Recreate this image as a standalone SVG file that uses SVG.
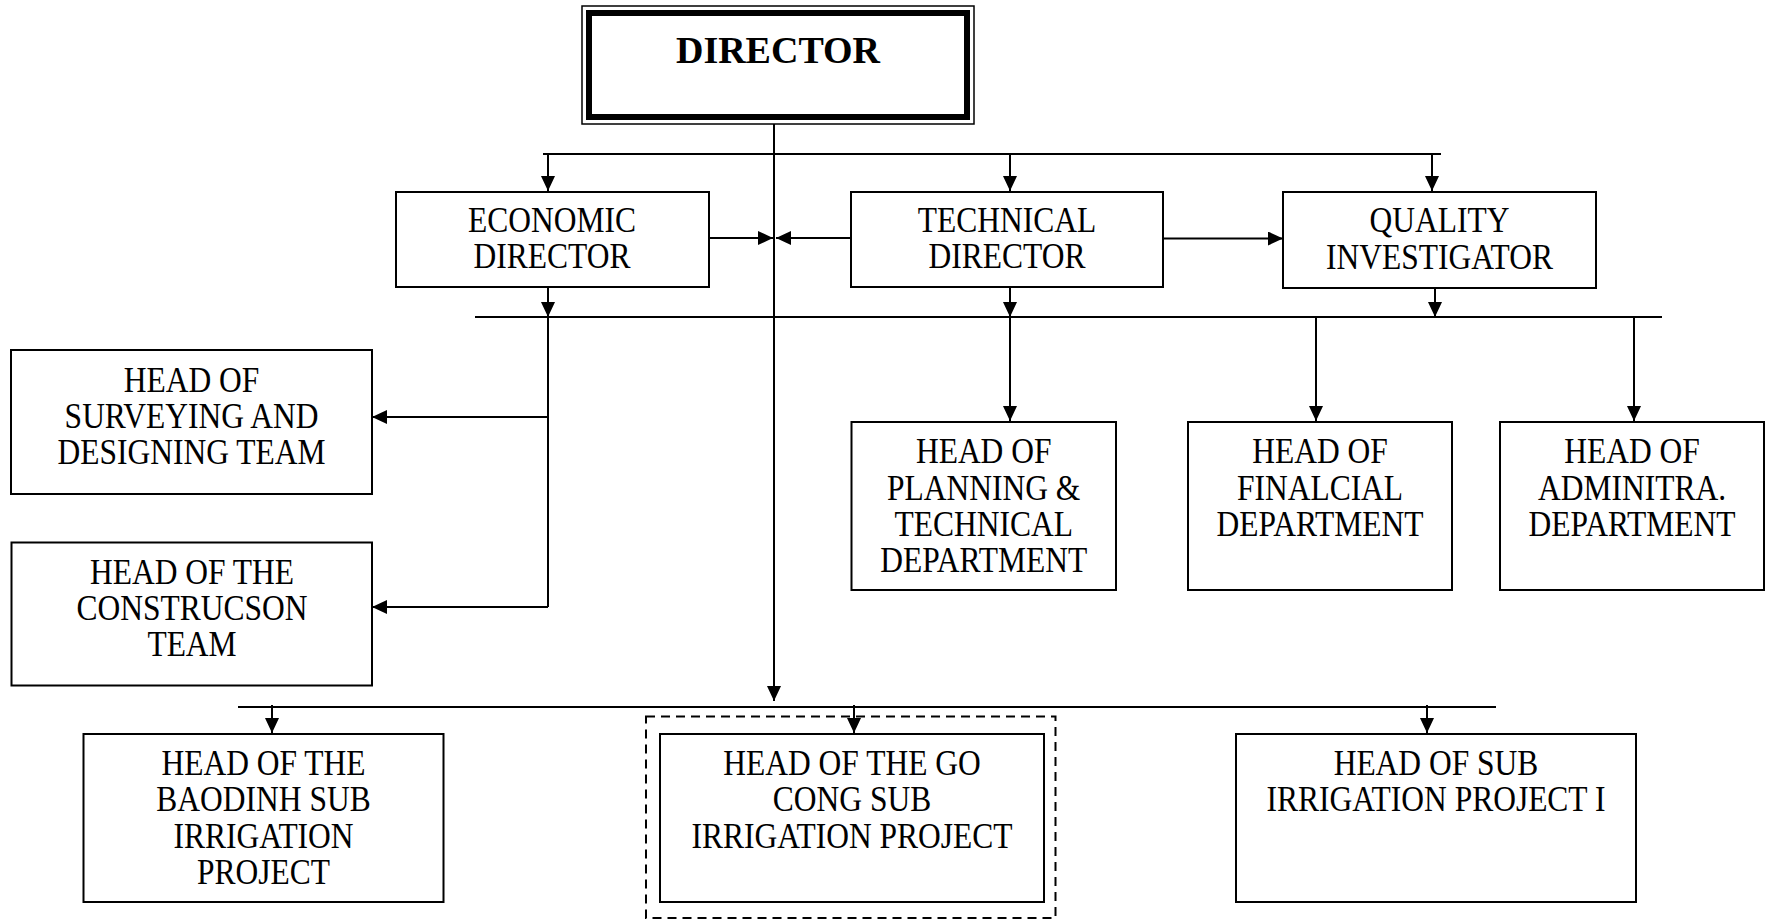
<svg xmlns="http://www.w3.org/2000/svg" width="1772" height="920" viewBox="0 0 1772 920">
<style>
.box{fill:#fff;stroke:#000;stroke-width:2}
.lbl{font-family:"Liberation Serif","Times New Roman",serif;font-size:35px;text-anchor:middle;fill:#000}
.ttl{font-family:"Liberation Serif","Times New Roman",serif;font-size:38px;font-weight:bold;text-anchor:middle;fill:#000}
.ln{fill:none;stroke:#000;stroke-width:2}
.ar{fill:none;stroke:#000;stroke-width:2;marker-end:url(#ah)}
</style>
<defs>
<marker id="ah" viewBox="0 0 15 14" markerWidth="15" markerHeight="14" refX="15" refY="7" orient="auto" markerUnits="userSpaceOnUse">
<path d="M0,0 L15,7 L0,14 z" fill="#000"/>
</marker>
</defs>
<rect width="1772" height="920" fill="#fff"/>
<g id="connectors">
<path class="ar" d="M774,123 L774,701"/>
<path class="ln" d="M543,154 L1441,154"/>
<path class="ar" d="M548,154 L548,191"/>
<path class="ar" d="M1010,154 L1010,191"/>
<path class="ar" d="M1432,154 L1432,191"/>
<path class="ar" d="M709,238 L773,238"/>
<path class="ar" d="M851,238 L776,238"/>
<path class="ar" d="M1163,238.5 L1283,238.5"/>
<path class="ln" d="M475,317 L1662,317"/>
<path class="ar" d="M548,287 L548,317"/>
<path class="ln" d="M548,317 L548,607"/>
<path class="ar" d="M1010,287 L1010,317"/>
<path class="ar" d="M1435,288 L1435,317"/>
<path class="ar" d="M1010,317 L1010,421"/>
<path class="ar" d="M1316,317 L1316,421"/>
<path class="ar" d="M1634,317 L1634,421"/>
<path class="ar" d="M548,417 L372,417"/>
<path class="ar" d="M548,607 L372,607"/>
<path class="ln" d="M238,707 L1496,707"/>
<path class="ar" d="M272,705 L272,733"/>
<path class="ar" d="M854,705 L854,733"/>
<path class="ar" d="M1427,705 L1427,733"/>
</g>
<g id="director">
<rect x="582" y="6" width="392" height="118" fill="#fff" stroke="#000" stroke-width="1.5"/>
<rect x="589" y="13" width="378" height="104" fill="#fff" stroke="#000" stroke-width="6"/>
<text class="ttl" x="778" y="63">DIRECTOR</text>
</g>
<g id="economic">
<rect class="box" x="396" y="192" width="313" height="95"/>
<text class="lbl" transform="translate(552,0) scale(0.9,1)"><tspan x="0" y="232.5">ECONOMIC</tspan><tspan x="0" y="268.5">DIRECTOR</tspan></text>
</g>
<g id="technical">
<rect class="box" x="851" y="192" width="312" height="95"/>
<text class="lbl" transform="translate(1007,0) scale(0.9,1)"><tspan x="0" y="232.5">TECHNICAL</tspan><tspan x="0" y="268.5">DIRECTOR</tspan></text>
</g>
<g id="quality">
<rect class="box" x="1283" y="192" width="313" height="96"/>
<text class="lbl" transform="translate(1439.5,0) scale(0.9,1)"><tspan x="0" y="232.5">QUALITY</tspan><tspan x="0" y="269">INVESTIGATOR</tspan></text>
</g>
<g id="surveying">
<rect class="box" x="11" y="350" width="361" height="144"/>
<text class="lbl" transform="translate(191.5,0) scale(0.9,1)"><tspan x="0" y="392">HEAD OF</tspan><tspan x="0" y="428">SURVEYING AND</tspan><tspan x="0" y="464.5">DESIGNING TEAM</tspan></text>
</g>
<g id="construction">
<rect class="box" x="11.5" y="542.5" width="360.5" height="143"/>
<text class="lbl" transform="translate(192,0) scale(0.9,1)"><tspan x="0" y="584">HEAD OF THE</tspan><tspan x="0" y="620">CONSTRUCSON</tspan><tspan x="0" y="656.5">TEAM</tspan></text>
</g>
<g id="planning">
<rect class="box" x="851.5" y="422" width="264.5" height="168"/>
<text class="lbl" transform="translate(983.7,0) scale(0.9,1)"><tspan x="0" y="463.5">HEAD OF</tspan><tspan x="0" y="500">PLANNING &amp;</tspan><tspan x="0" y="536">TECHNICAL</tspan><tspan x="0" y="572">DEPARTMENT</tspan></text>
</g>
<g id="financial">
<rect class="box" x="1188" y="422" width="264" height="168"/>
<text class="lbl" transform="translate(1320,0) scale(0.9,1)"><tspan x="0" y="463.5">HEAD OF</tspan><tspan x="0" y="500">FINALCIAL</tspan><tspan x="0" y="536">DEPARTMENT</tspan></text>
</g>
<g id="admin">
<rect class="box" x="1500" y="422" width="264" height="168"/>
<text class="lbl" transform="translate(1632,0) scale(0.9,1)"><tspan x="0" y="463.5">HEAD OF</tspan><tspan x="0" y="500">ADMINITRA.</tspan><tspan x="0" y="536">DEPARTMENT</tspan></text>
</g>
<g id="baodinh">
<rect class="box" x="83.5" y="734" width="360" height="168"/>
<text class="lbl" transform="translate(263.5,0) scale(0.9,1)"><tspan x="0" y="775">HEAD OF THE</tspan><tspan x="0" y="811.5">BAODINH SUB</tspan><tspan x="0" y="848">IRRIGATION</tspan><tspan x="0" y="884.5">PROJECT</tspan></text>
</g>
<g id="gocong">
<rect x="646" y="716.5" width="409.5" height="201.5" fill="none" stroke="#000" stroke-width="2" stroke-dasharray="9,6"/>
<rect class="box" x="660" y="734" width="384" height="168"/>
<text class="lbl" transform="translate(852,0) scale(0.9,1)"><tspan x="0" y="775">HEAD OF THE GO</tspan><tspan x="0" y="811.5">CONG SUB</tspan><tspan x="0" y="848">IRRIGATION PROJECT</tspan></text>
</g>
<g id="subproject1">
<rect class="box" x="1236" y="734" width="400" height="168"/>
<text class="lbl" transform="translate(1436,0) scale(0.9,1)"><tspan x="0" y="775">HEAD OF SUB</tspan><tspan x="0" y="811.5">IRRIGATION PROJECT I</tspan></text>
</g>
</svg>
